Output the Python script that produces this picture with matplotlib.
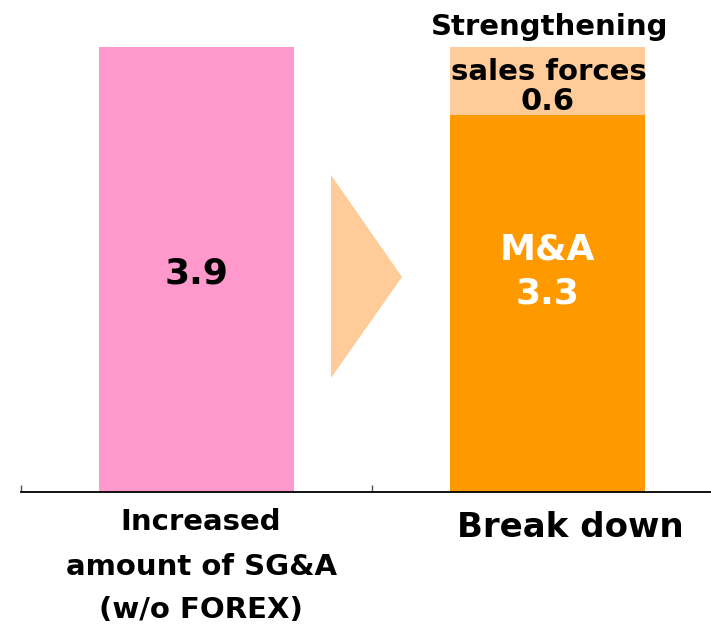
import matplotlib
matplotlib.use("Agg")
import matplotlib.pyplot as plt
from matplotlib.patches import Polygon

category_lines = [["Increased", "amount of SG&A", "(w/o FOREX)"], ["Break down"]]
total_values = [3.9]
ma_values = [3.3]
sales_values = [0.6]
ma_label = "M&A"
sales_label_lines = ["Strengthening", "sales forces"]

pink = "#FF99CC"
orange = "#FF9900"
light = "#FFCC99"

plt.rcParams['font.family'] = ['DejaVu Sans']
plt.rcParams['font.weight'] = 'bold'

fig = plt.figure(figsize=(7.11, 6.27), dpi=100)
ax = fig.add_axes([21/711, 135/627, 702/711, 492/627])
ppu = 114.1
ax.set_xlim(-0.5, 1.5)
ax.set_ylim(0, 492/ppu)

w = 0.553
ax.bar([0], total_values, width=w, color=pink)
ax.bar([1], ma_values, width=w, color=orange)
ax.bar([1], sales_values, bottom=ma_values, width=w, color=light)

# arrow triangle (axes fraction coordinates)
tri = Polygon([[310/702, 1 - 175/492], [310/702, 1 - 378/492], [381/702, 1 - 277/492]],
              closed=True, transform=ax.transAxes, facecolor=light, edgecolor='none')
ax.add_patch(tri)

def px(y):
    return (492 - y) / ppu

ax.text(0, px(283), f"{total_values[0]:.1f}", ha='center', va='baseline',
        fontsize=26, fontweight='bold', color='black')
ax.text(1, px(259), ma_label, ha='center', va='baseline',
        fontsize=26, fontweight='bold', color='white')
ax.text(1, px(303), f"{ma_values[0]:.1f}", ha='center', va='baseline',
        fontsize=26, fontweight='bold', color='white')
ax.text(1, px(110), f"{sales_values[0]:.1f}", ha='center', va='baseline',
        fontsize=22, fontweight='bold', color='black')
for line, yb in zip(sales_label_lines, [35, 80]):
    ax.text(1.005, px(yb), line, ha='center', va='baseline',
            fontsize=21, fontweight='bold', color='black')

for spine in ['left', 'right', 'top']:
    ax.spines[spine].set_visible(False)
ax.spines['bottom'].set_linewidth(1.3)
ax.set_yticks([])
ax.set_xticks([-0.5, 0.5, 1.5])
ax.set_xticklabels([])
ax.tick_params(axis='x', direction='in', length=5, width=1, color='#555555')

for line, yb in zip(category_lines[0], [530, 575, 618]):
    ax.text(0.013, px(yb), line, ha='center', va='baseline', fontsize=21,
            fontweight='bold', clip_on=False)
ax.text(1.064, px(537), category_lines[1][0], ha='center', va='baseline', fontsize=24.5,
        fontweight='bold', clip_on=False)

fig.savefig("out.png", dpi=100)
